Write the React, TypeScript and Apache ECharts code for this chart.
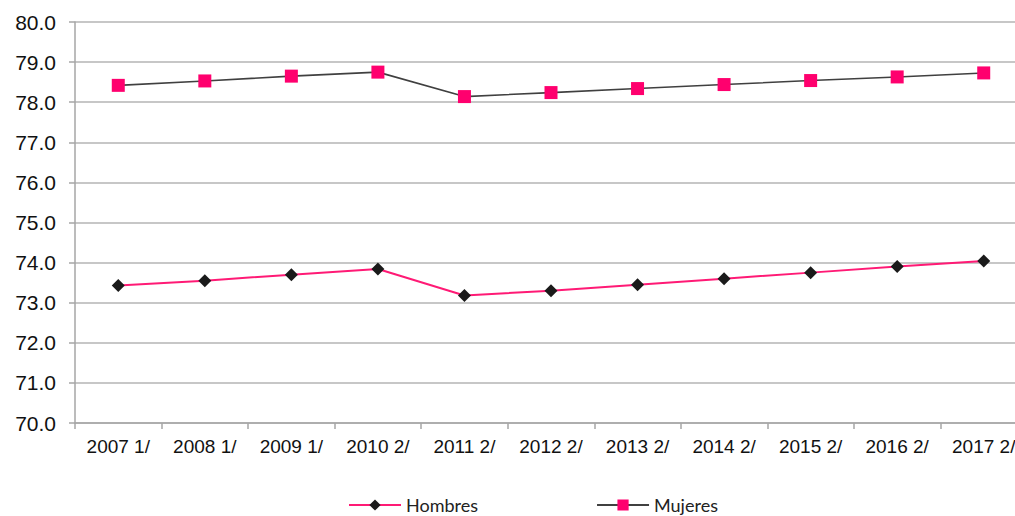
import React, { useEffect, useRef } from "react";
import * as echarts from "echarts";

const categories = ["2007 1/", "2008 1/", "2009 1/", "2010 2/", "2011 2/", "2012 2/", "2013 2/", "2014 2/", "2015 2/", "2016 2/", "2017 2/"];
const hombres = [73.43, 73.55, 73.70, 73.84, 73.18, 73.30, 73.45, 73.60, 73.75, 73.90, 74.04];
const mujeres = [78.42, 78.53, 78.65, 78.75, 78.14, 78.24, 78.34, 78.44, 78.54, 78.63, 78.73];
const yMin = 70;
const yMax = 80;
const yStep = 1;

export default function App() {
  const ref = useRef<HTMLDivElement>(null);
  useEffect(() => {
    if (!ref.current) return;
    const chart = echarts.init(ref.current, null, { renderer: "svg" });
    chart.setOption({
      animation: false,
      backgroundColor: "#ffffff",
      grid: { left: 75, top: 22, bottom: 93, right: 0, containLabel: false },
      legend: {
        left: 343,
        top: 491,
        itemWidth: 52,
        itemHeight: 14,
        itemGap: 118,
        textStyle: { fontFamily: "Lato", fontSize: 18, color: "#222" },
        data: ["Hombres", "Mujeres"],
      },
      xAxis: {
        type: "category",
        data: categories,
        boundaryGap: true,
        axisLine: { lineStyle: { color: "#a6a6a6", width: 1.5 } },
        axisTick: { show: true, length: 6, lineStyle: { color: "#a6a6a6", width: 1.5 } },
        axisLabel: { fontFamily: "Liberation Sans", fontSize: 19, color: "#111", margin: 14, interval: 0 },
      },
      yAxis: {
        type: "value",
        min: yMin,
        max: yMax,
        interval: yStep,
        axisLine: { show: true, lineStyle: { color: "#a6a6a6", width: 1.5 } },
        axisTick: { show: true, length: 6, lineStyle: { color: "#a6a6a6", width: 1.5 } },
        splitLine: { lineStyle: { color: "#b4b4b4", width: 1.5 } },
        axisLabel: {
          fontFamily: "Liberation Sans",
          fontSize: 21,
          color: "#111",
          margin: 19,
          formatter: (v: number) => v.toFixed(1),
        },
      },
      series: [
        {
          name: "Hombres",
          type: "line",
          data: hombres,
          symbol: "diamond",
          symbolSize: 13,
          itemStyle: { color: "#1a1a1a" },
          lineStyle: { color: "#ff1a75", width: 2 },
        },
        {
          name: "Mujeres",
          type: "line",
          data: mujeres,
          symbol: "rect",
          symbolSize: 13,
          itemStyle: { color: "#ff006e" },
          lineStyle: { color: "#404040", width: 1.6 },
        },
      ],
    });
    return () => chart.dispose();
  }, []);
  return <div ref={ref} style={{ position: "fixed", left: 0, top: 0, width: 1027, height: 516 }} />;
}
